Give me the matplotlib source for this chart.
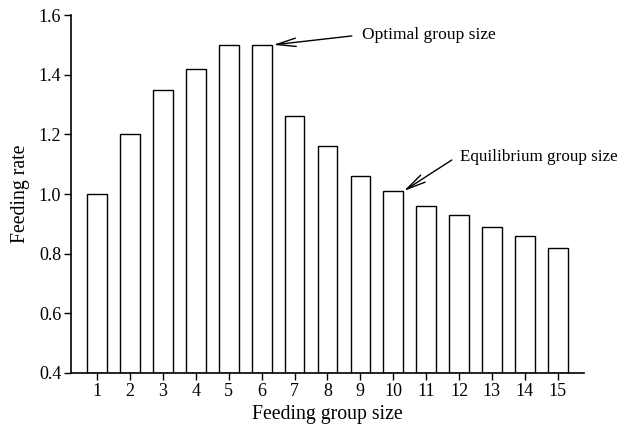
import matplotlib
matplotlib.use("Agg")
import matplotlib.pyplot as plt

plt.rcParams['font.family'] = ['Liberation Serif', 'DejaVu Serif']

group_size = list(range(1, 16))
feeding_rate = [1.00, 1.20, 1.35, 1.42, 1.50, 1.50, 1.26, 1.16, 1.06, 1.01,
                0.96, 0.93, 0.89, 0.86, 0.82]
y_ticks = [0.4, 0.6, 0.8, 1.0, 1.2, 1.4, 1.6]

fig = plt.figure(figsize=(6.2, 4.26), dpi=100)
ax = fig.add_axes([0.1145, 0.1245, 0.8274, 0.8402])

ax.bar(group_size, [v - 0.4 for v in feeding_rate], bottom=0.4, width=0.6,
       color='white', edgecolor='black', linewidth=1.0)

ax.set_xlim(0.2, 15.8)
ax.set_ylim(0.4, 1.6)
ax.set_xticks(group_size)
ax.set_yticks(y_ticks)
ax.set_yticklabels(['%.1f' % t for t in y_ticks])
ax.tick_params(direction='out', length=5, width=1.0, labelsize=13, pad=2)
for s in ['top', 'right']:
    ax.spines[s].set_visible(False)
for s in ['left', 'bottom']:
    ax.spines[s].set_linewidth(1.2)

ax.set_xlabel('Feeding group size', fontsize=14.2, labelpad=4)
ax.set_ylabel('Feeding rate', fontsize=14.2, labelpad=6)

arrow = dict(arrowstyle='->,head_length=1.4,head_width=0.3', color='black',
             lw=1.0, shrinkA=0, shrinkB=0)

ax.annotate('', xy=(6.35, 1.50), xytext=(8.74, 1.53), arrowprops=arrow)
ax.text(9.05, 1.533, 'Optimal group size', fontsize=12.6, ha='left', va='center')

ax.annotate('', xy=(10.32, 1.01), xytext=(11.78, 1.114), arrowprops=arrow)
ax.text(12.02, 1.124, 'Equilibrium group size', fontsize=12.3, ha='left', va='center')

fig.savefig('out.png', dpi=100)
